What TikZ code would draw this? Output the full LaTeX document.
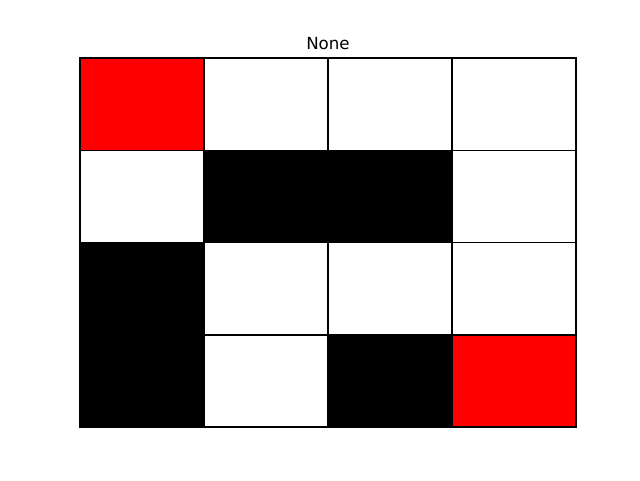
\documentclass[tikz,border=0pt]{standalone}
\usepackage{fontspec}
\setmainfont{DejaVu Sans}
\begin{document}
\begin{tikzpicture}[x=1pt,y=-1pt,
  cell/.style={draw=black,line width=1.5pt}]
\useasboundingbox (0,0) rectangle (640,480);
\fill[white] (0,0) rectangle (640,480);
\def\cw{124}
\def\ch{92.25}
% row, col, colour
\foreach \r/\c/\col in {0/0/red,0/1/white,0/2/white,0/3/white,
                        1/0/white,1/1/black,1/2/black,1/3/white,
                        2/0/black,2/1/white,2/2/white,2/3/white,
                        3/0/black,3/1/white,3/2/black,3/3/red}{
  \path[cell,fill=\col] ({80+\c*\cw},{58+\r*\ch}) rectangle ++(\cw,\ch);
}
\draw[black,line width=1.5pt] (80,58) rectangle (576,427);
\node[font=\fontsize{16.67}{20}\selectfont] (title) at (328,44) {None};
\end{tikzpicture}
\end{document}
